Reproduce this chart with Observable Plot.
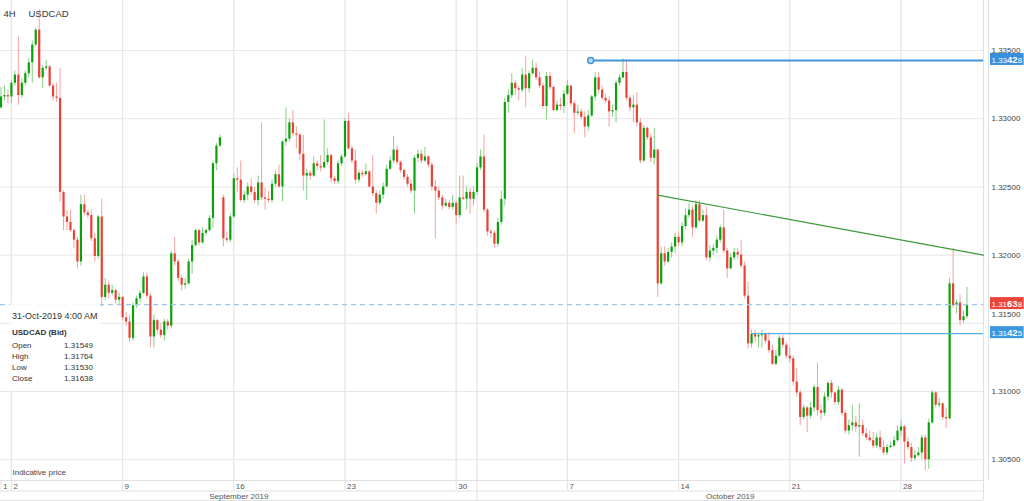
<!DOCTYPE html>
<html><head><meta charset="utf-8">
<script src="https://cdn.jsdelivr.net/npm/d3@7"></script>
<script src="https://cdn.jsdelivr.net/npm/@observablehq/plot@0.6"></script>
<style>
body{margin:0;background:#fff;font-family:"Liberation Sans",Arial,sans-serif;}
#wrap{position:relative;width:1024px;height:501px;overflow:hidden;}
#info{position:absolute;left:10px;top:303px;width:90px;height:87px;background:rgba(255,255,255,0.88);color:#333;}
#info .d{position:absolute;left:2px;top:8.5px;font-size:9px;line-height:9px;white-space:nowrap;}
#info .s{position:absolute;left:2px;top:26px;font-size:8px;line-height:8px;font-weight:bold;white-space:nowrap;}
#info .r{position:absolute;left:2px;right:7px;font-size:8px;line-height:8px;}
#info .r .v{position:absolute;right:0;top:0;}
</style></head><body><div id="wrap"></div>
<script>
// ---- data (4H candles, USDCAD bid) ----
const timeframe = "4H";
const symbol = "USDCAD";
const lastTime = "31-Oct-2019 4:00 AM";
const opens = [
1.3308,1.3316,1.3317,1.3316,1.3326,1.3332,1.3317,1.3326,1.3333,1.3341,
1.3354,1.3365,1.3330,1.3337,1.3338,1.3324,1.3316,1.3315,1.3246,1.3228,
1.3224,1.3218,1.3211,1.3195,1.3237,1.3231,1.3229,1.3212,1.3199,1.3228,
1.3169,1.3178,1.3172,1.3174,1.3167,1.3169,1.3154,1.3151,1.3139,1.3163,
1.3168,1.3172,1.3184,1.3170,1.3140,1.3152,1.3145,1.3141,1.3151,1.3148,
1.3201,1.3195,1.3183,1.3178,1.3179,1.3195,1.3207,1.3218,1.3209,1.3216,
1.3218,1.3227,1.3267,1.3280,1.3242,1.3212,1.3211,1.3228,1.3256,1.3255,
1.3240,1.3244,1.3250,1.3246,1.3240,1.3253,1.3242,1.3241,1.3240,1.3252,
1.3259,1.3250,1.3283,1.3285,1.3297,1.3289,1.3288,1.3274,1.3258,1.3260,
1.3258,1.3267,1.3265,1.3264,1.3268,1.3273,1.3256,1.3254,1.3267,1.3272,
1.3298,1.3278,1.3269,1.3255,1.3260,1.3259,1.3261,1.3250,1.3245,1.3238,
1.3244,1.3250,1.3263,1.3269,1.3277,1.3268,1.3262,1.3257,1.3252,1.3247,
1.3271,1.3274,1.3269,1.3272,1.3266,1.3250,1.3247,1.3242,1.3236,1.3238,
1.3235,1.3238,1.3229,1.3242,1.3241,1.3246,1.3241,1.3246,1.3264,1.3272,
1.3233,1.3217,1.3216,1.3208,1.3224,1.3241,1.3312,1.3317,1.3326,1.3322,
1.3321,1.3332,1.3322,1.3333,1.3337,1.3330,1.3324,1.3309,1.3331,1.3323,
1.3306,1.3310,1.3309,1.3318,1.3324,1.3311,1.3304,1.3305,1.3301,1.3294,
1.3302,1.3316,1.3330,1.3321,1.3315,1.3313,1.3305,1.3306,1.3326,1.3330,
1.3334,1.3315,1.3308,1.3310,1.3297,1.3269,1.3293,1.3286,1.3271,1.3277,
1.3179,1.3201,1.3195,1.3202,1.3206,1.3213,1.3209,1.3221,1.3229,1.3233,
1.3220,1.3237,1.3225,1.3229,1.3198,1.3203,1.3205,1.3211,1.3220,1.3203,
1.3190,1.3198,1.3202,1.3200,1.3192,1.3170,1.3135,1.3142,1.3140,1.3141,
1.3142,1.3137,1.3130,1.3120,1.3126,1.3139,1.3134,1.3126,1.3124,1.3107,
1.3099,1.3081,1.3088,1.3082,1.3088,1.3103,1.3086,1.3084,1.3096,1.3106,
1.3099,1.3092,1.3101,1.3084,1.3071,1.3075,1.3077,1.3074,1.3075,1.3069,
1.3066,1.3064,1.3060,1.3066,1.3059,1.3055,1.3059,1.3060,1.3064,1.3071,
1.3074,1.3063,1.3059,1.3051,1.3053,1.3055,1.3066,1.3050,1.3077,1.3099,
1.3090,1.3091,1.3081,1.3080,1.3179,1.3163,1.3165,1.3152,1.31549];
const highs = [
1.3323,1.3324,1.3321,1.3328,1.3335,1.3360,1.3329,1.3335,1.3344,1.3357,
1.3366,1.3380,1.3339,1.3343,1.3339,1.3326,1.3326,1.3337,1.3247,1.3233,
1.3233,1.3219,1.3213,1.3244,1.3244,1.3233,1.3233,1.3216,1.3229,1.3241,
1.3183,1.3181,1.3178,1.3175,1.3172,1.3170,1.3158,1.3156,1.3165,1.3170,
1.3174,1.3187,1.3187,1.3172,1.3156,1.3153,1.3150,1.3153,1.3153,1.3203,
1.3213,1.3197,1.3185,1.3183,1.3197,1.3211,1.3219,1.3219,1.3220,1.3219,
1.3229,1.3269,1.3282,1.3288,1.3244,1.3217,1.3230,1.3260,1.3264,1.3269,
1.3247,1.3253,1.3256,1.3250,1.3258,1.3297,1.3249,1.3247,1.3255,1.3262,
1.3266,1.3284,1.3308,1.3300,1.3306,1.3294,1.3289,1.3288,1.3263,1.3262,
1.3272,1.3269,1.3273,1.3299,1.3278,1.3274,1.3258,1.3269,1.3274,1.3300,
1.3304,1.3280,1.3277,1.3262,1.3262,1.3267,1.3262,1.3273,1.3247,1.3247,
1.3253,1.3266,1.3272,1.3287,1.3280,1.3269,1.3263,1.3259,1.3255,1.3273,
1.3277,1.3277,1.3279,1.3273,1.3268,1.3255,1.3250,1.3244,1.3241,1.3240,
1.3244,1.3240,1.3258,1.3258,1.3250,1.3249,1.3250,1.3267,1.3277,1.3288,
1.3234,1.3219,1.3218,1.3227,1.3247,1.3315,1.3321,1.3333,1.3328,1.3324,
1.3337,1.3346,1.3335,1.3343,1.3341,1.3334,1.3326,1.3334,1.3334,1.3324,
1.3313,1.3315,1.3321,1.3328,1.3324,1.3313,1.3310,1.3307,1.3305,1.3306,
1.3317,1.3334,1.3334,1.3324,1.3318,1.3316,1.3310,1.3328,1.3332,1.3344,
1.3343,1.3317,1.3317,1.3319,1.3300,1.3295,1.3294,1.3289,1.3293,1.3278,
1.3206,1.3206,1.3205,1.3209,1.3216,1.3217,1.3224,1.3234,1.3238,1.3236,
1.3240,1.3240,1.3233,1.3235,1.3207,1.3208,1.3214,1.3222,1.3233,1.3205,
1.3201,1.3205,1.3205,1.3211,1.3195,1.3180,1.3145,1.3145,1.3143,1.3145,
1.3143,1.3143,1.3134,1.3130,1.3141,1.3141,1.3136,1.3132,1.3126,1.3117,
1.3101,1.3090,1.3089,1.3092,1.3105,1.3121,1.3090,1.3099,1.3107,1.3108,
1.3097,1.3104,1.3102,1.3086,1.3079,1.3090,1.3082,1.3091,1.3079,1.3073,
1.3071,1.3070,1.3069,1.3071,1.3064,1.3061,1.3063,1.3067,1.3075,1.3079,
1.3075,1.3066,1.3062,1.3057,1.3059,1.3068,1.3068,1.3080,1.3101,1.3100,
1.3095,1.3092,1.3088,1.3183,1.3205,1.3167,1.3171,1.3159,1.31764];
const lows = [
1.3307,1.3313,1.3311,1.3311,1.3324,1.3310,1.3315,1.3324,1.3330,1.3326,
1.3353,1.3329,1.3322,1.3335,1.3323,1.3313,1.3312,1.3239,1.3218,1.3218,
1.3217,1.3205,1.3190,1.3192,1.3229,1.3227,1.3210,1.3195,1.3197,1.3162,
1.3167,1.3168,1.3170,1.3164,1.3163,1.3152,1.3148,1.3136,1.3137,1.3161,
1.3165,1.3171,1.3168,1.3132,1.3132,1.3142,1.3139,1.3137,1.3145,1.3146,
1.3192,1.3181,1.3174,1.3175,1.3178,1.3186,1.3206,1.3207,1.3208,1.3214,
1.3217,1.3220,1.3262,1.3279,1.3206,1.3209,1.3209,1.3227,1.3246,1.3239,
1.3238,1.3240,1.3244,1.3238,1.3236,1.3240,1.3233,1.3238,1.3238,1.3250,
1.3249,1.3239,1.3280,1.3283,1.3287,1.3278,1.3269,1.3247,1.3240,1.3255,
1.3257,1.3262,1.3261,1.3263,1.3266,1.3253,1.3252,1.3252,1.3265,1.3271,
1.3277,1.3267,1.3252,1.3253,1.3257,1.3258,1.3249,1.3243,1.3230,1.3236,
1.3241,1.3250,1.3262,1.3267,1.3266,1.3260,1.3255,1.3250,1.3245,1.3230,
1.3268,1.3267,1.3268,1.3264,1.3247,1.3212,1.3240,1.3233,1.3235,1.3233,
1.3233,1.3222,1.3227,1.3240,1.3233,1.3230,1.3236,1.3244,1.3262,1.3231,
1.3214,1.3212,1.3205,1.3206,1.3222,1.3236,1.3304,1.3315,1.3317,1.3313,
1.3319,1.3308,1.3319,1.3332,1.3328,1.3322,1.3307,1.3299,1.3321,1.3305,
1.3305,1.3306,1.3304,1.3317,1.3309,1.3289,1.3302,1.3299,1.3286,1.3291,
1.3301,1.3313,1.3318,1.3313,1.3311,1.3294,1.3301,1.3297,1.3324,1.3329,
1.3313,1.3305,1.3297,1.3294,1.3267,1.3268,1.3284,1.3268,1.3266,1.3169,
1.3178,1.3192,1.3194,1.3198,1.3201,1.3206,1.3206,1.3219,1.3227,1.3213,
1.3219,1.3224,1.3224,1.3196,1.3195,1.3200,1.3201,1.3209,1.3201,1.3183,
1.3189,1.3196,1.3197,1.3190,1.3168,1.3131,1.3132,1.3136,1.3132,1.3132,
1.3135,1.3128,1.3119,1.3119,1.3125,1.3132,1.3124,1.3121,1.3104,1.3096,
1.3075,1.3079,1.3070,1.3080,1.3085,1.3082,1.3079,1.3082,1.3093,1.3095,
1.3090,1.3090,1.3082,1.3069,1.3068,1.3071,1.3070,1.3052,1.3067,1.3064,
1.3063,1.3058,1.3058,1.3057,1.3053,1.3053,1.3058,1.3059,1.3063,1.3067,
1.3047,1.3057,1.3048,1.3049,1.3052,1.3050,1.3042,1.3043,1.3076,1.3088,
1.3088,1.3079,1.3073,1.3079,1.3161,1.3157,1.3148,1.3150,1.31530];
const closes = [
1.3316,1.3317,1.3316,1.3326,1.3332,1.3317,1.3326,1.3333,1.3341,1.3354,
1.3365,1.3330,1.3337,1.3338,1.3324,1.3316,1.3315,1.3246,1.3228,1.3224,
1.3218,1.3211,1.3195,1.3237,1.3231,1.3229,1.3212,1.3199,1.3228,1.3169,
1.3178,1.3172,1.3174,1.3167,1.3169,1.3154,1.3151,1.3139,1.3163,1.3168,
1.3172,1.3184,1.3170,1.3140,1.3152,1.3145,1.3141,1.3151,1.3148,1.3201,
1.3195,1.3183,1.3178,1.3179,1.3195,1.3207,1.3218,1.3209,1.3216,1.3218,
1.3227,1.3267,1.3280,1.3286,1.3212,1.3211,1.3228,1.3256,1.3255,1.3240,
1.3244,1.3250,1.3246,1.3240,1.3253,1.3242,1.3241,1.3240,1.3252,1.3259,
1.3250,1.3283,1.3285,1.3297,1.3289,1.3288,1.3274,1.3258,1.3260,1.3258,
1.3267,1.3265,1.3264,1.3268,1.3273,1.3256,1.3254,1.3267,1.3272,1.3298,
1.3278,1.3269,1.3255,1.3260,1.3259,1.3261,1.3250,1.3245,1.3238,1.3244,
1.3250,1.3263,1.3269,1.3277,1.3268,1.3262,1.3257,1.3252,1.3247,1.3271,
1.3274,1.3269,1.3272,1.3266,1.3250,1.3247,1.3242,1.3236,1.3238,1.3235,
1.3238,1.3229,1.3242,1.3241,1.3246,1.3241,1.3246,1.3264,1.3272,1.3233,
1.3217,1.3216,1.3208,1.3224,1.3241,1.3312,1.3317,1.3326,1.3322,1.3321,
1.3332,1.3322,1.3333,1.3337,1.3330,1.3324,1.3309,1.3331,1.3323,1.3306,
1.3310,1.3309,1.3318,1.3324,1.3311,1.3304,1.3305,1.3301,1.3294,1.3302,
1.3316,1.3330,1.3321,1.3315,1.3313,1.3305,1.3306,1.3326,1.3330,1.3334,
1.3315,1.3308,1.3310,1.3297,1.3269,1.3293,1.3286,1.3271,1.3277,1.3179,
1.3201,1.3195,1.3202,1.3206,1.3213,1.3209,1.3221,1.3229,1.3233,1.3220,
1.3237,1.3225,1.3229,1.3198,1.3203,1.3205,1.3211,1.3220,1.3203,1.3190,
1.3198,1.3202,1.3200,1.3192,1.3170,1.3135,1.3142,1.3140,1.3141,1.3142,
1.3137,1.3130,1.3120,1.3126,1.3139,1.3134,1.3126,1.3124,1.3107,1.3099,
1.3081,1.3088,1.3082,1.3088,1.3103,1.3086,1.3084,1.3096,1.3106,1.3099,
1.3092,1.3101,1.3084,1.3071,1.3075,1.3077,1.3074,1.3075,1.3069,1.3066,
1.3064,1.3060,1.3066,1.3059,1.3055,1.3059,1.3060,1.3064,1.3071,1.3074,
1.3063,1.3059,1.3051,1.3053,1.3055,1.3066,1.3050,1.3077,1.3099,1.3090,
1.3091,1.3081,1.3080,1.3179,1.3163,1.3165,1.3152,1.31549,1.31638];

// axis / annotation values
const priceTicks = [1.305, 1.310, 1.315, 1.320, 1.325, 1.330, 1.335];
const weekTicks = [0, 3, 35, 67, 99, 131, 163, 195, 227, 259];      // candle index of each Monday (and Sep 1)
const weekLabels = ["1", "2", "9", "16", "23", "30", "7", "14", "21", "28"];
const monthStarts = [0, 137];
const monthLabels = ["September 2019", "October 2019"];
const levelPrices = [1.33428, 1.31425];
const levelStarts = [169.7, 216.2];
const trendIdx = [189, 282.75];
const trendPrices = [1.3244, 1.3200];

// ---- layout ----
const xDomain = [-0.14, 282.75];
const yDomain = [1.30348, 1.33867];
const xMax = xDomain[1], yMin = yDomain[0];
const fmt = d3.format(".5f");

const candles = closes.map((c, i) => ({i, o: opens[i], h: highs[i], l: lows[i], c, up: c >= opens[i]}));
const ups = candles.filter(d => d.up), downs = candles.filter(d => !d.up);
const last = candles[candles.length - 1];
const gridIdx = weekTicks.slice(1).concat([monthStarts[1]]);
const months = monthLabels.map((label, k) => {
  const a = k === 0 ? xDomain[0] : monthStarts[k];
  const b = k + 1 < monthStarts.length ? monthStarts[k + 1] : xDomain[1];
  return {label, center: (a + b) / 2};
});
const levels = levelPrices.map((p, k) => ({p, start: levelStarts[k]}));
const trend = trendIdx.map((i, k) => ({i, p: trendPrices[k]}));
const tagPrices = [levelPrices[0], last.c, levelPrices[1]];
const tagColors = ["#3a8fdc", "#ea4439", "#3a98e0"];

const G = "#0aa20a", R = "#ec4036", GW = "#86d086", RW = "#f4a29d", GRID = "#e6e6e6";

const chart = Plot.plot({
  width: 1024, height: 501,
  marginLeft: 0, marginRight: 41, marginTop: 0, marginBottom: 21,
  x: {type: "linear", domain: xDomain},
  y: {type: "linear", domain: yDomain},
  style: {fontFamily: "'Liberation Sans', Arial, sans-serif", fontSize: "8px", background: "#fff", color: "#555"},
  marks: [
    Plot.ruleY(priceTicks, {stroke: GRID}),
    Plot.ruleX(gridIdx, {stroke: GRID, strokeWidth: 1.3}),
    Plot.ruleX([xMax], {stroke: "#e0e0e0"}),
    Plot.ruleX([xMax], {stroke: "#e0e0e0", dx: 5}),
    Plot.ruleY([yMin], {stroke: "#e0e0e0"}),
    Plot.ruleY([yMin], {stroke: "#e0e0e0", dy: 10.5}),
    Plot.ruleY([yMin], {stroke: "#e0e0e0", dy: 20}),
    Plot.axisX({ticks: weekTicks, tickSize: 10, tickFormat: () => "", stroke: "#e0e0e0", label: null}),
    Plot.axisX({ticks: [monthStarts[1], xMax], tickSize: 20, tickFormat: () => "", stroke: "#e0e0e0", label: null}),
    Plot.text(weekTicks, {x: d => d, y: yMin, text: (d, i) => weekLabels[i], dx: 2, dy: 6, textAnchor: "start", fill: "#555", fontSize: 8}),
    Plot.text(months, {x: "center", y: yMin, text: "label", dy: 16.2, fill: "#555", fontSize: 8}),
    Plot.axisY({anchor: "right", ticks: priceTicks.filter(t => t !== 1.315), tickSize: 0, tickPadding: 8, tickFormat: fmt, fill: "#444", fontSize: 8, label: null}),
    Plot.axisY({anchor: "right", ticks: [1.315], tickSize: 0, tickPadding: 8, tickFormat: fmt, fill: "#444", fontSize: 8, dy: -9, label: null}),
    // candles
    Plot.ruleX(ups, {x: "i", y1: "l", y2: "h", stroke: GW}),
    Plot.ruleX(downs, {x: "i", y1: "l", y2: "h", stroke: RW}),
    Plot.ruleX(ups, {x: "i", y1: "o", y2: "c", stroke: G, strokeWidth: 2.2}),
    Plot.ruleX(downs, {x: "i", y1: "o", y2: "c", stroke: R, strokeWidth: 2.2}),
    // drawings
    Plot.ruleY([last.c], {stroke: "#9dc7ee", strokeDasharray: "5,4", strokeWidth: 1.2}),
    Plot.line(trend, {x: "i", y: "p", stroke: "#3a9a3a", strokeWidth: 1.1}),
    Plot.ruleY([levels[0]], {y: "p", x1: "start", x2: xMax, stroke: "#4294dd", strokeWidth: 2}),
    Plot.ruleY([levels[1]], {y: "p", x1: "start", x2: xMax, stroke: "#5aaeea", strokeWidth: 1.3}),
    Plot.dot([levels[0]], {x: "start", y: "p", r: 3, fill: "#bcd9f5", stroke: "#4294dd"}),
    // price tags
    Plot.text(tagPrices, {x: xMax, y: d => d, text: d => fmt(d), dx: 8, textAnchor: "start", fill: "#fff", fontSize: 8, className: "ptag"}),
    // header & footer text
    Plot.text([timeframe], {text: d => d, frameAnchor: "top-left", dx: 3, dy: 9.5, textAnchor: "start", fill: "#333", fontSize: 9.5}),
    Plot.text([symbol], {text: d => d, frameAnchor: "top-left", dx: 28, dy: 9.5, textAnchor: "start", fill: "#333", fontSize: 9.5}),
    Plot.text(["Indicative price"], {text: d => d, frameAnchor: "bottom-left", dx: 12, dy: -5.3, textAnchor: "start", fill: "#444", fontSize: 8})
  ]
});

const wrap = document.getElementById("wrap");
wrap.appendChild(chart);

// boxes behind price tags, with emphasised pip digits
d3.select(chart).selectAll("g.ptag text").each(function(d, k) {
  const t = d3.select(this);
  const s = t.text();
  t.text(null);
  t.append("tspan").text(s.slice(0, 4));
  t.append("tspan").attr("font-weight", "bold").attr("font-size", "9.5px").text(s.slice(4, 6));
  t.append("tspan").text(s.slice(6));
  const b = this.getBBox();
  const r = document.createElementNS("http://www.w3.org/2000/svg", "rect");
  r.setAttribute("x", b.x - 1.5);
  r.setAttribute("width", b.width + 2.5);
  r.setAttribute("y", b.y + b.height / 2 - 6.5);
  r.setAttribute("height", 12);
  r.setAttribute("fill", tagColors[k]);
  if (this.getAttribute("transform")) r.setAttribute("transform", this.getAttribute("transform"));
  this.parentNode.insertBefore(r, this);
});

// data window (last candle)
const info = document.createElement("div");
info.id = "info";
const rows = [["Open", last.o], ["High", last.h], ["Low", last.l], ["Close", last.c]];
const tops = [38.5, 49.7, 60.9, 72];
info.innerHTML = `<div class="d">${lastTime}</div><div class="s">${symbol} (Bid)</div>` +
  rows.map((r, k) => `<div class="r" style="top:${tops[k]}px">${r[0]}<span class="v">${fmt(r[1])}</span></div>`).join("");
wrap.appendChild(info);
</script></body></html>
